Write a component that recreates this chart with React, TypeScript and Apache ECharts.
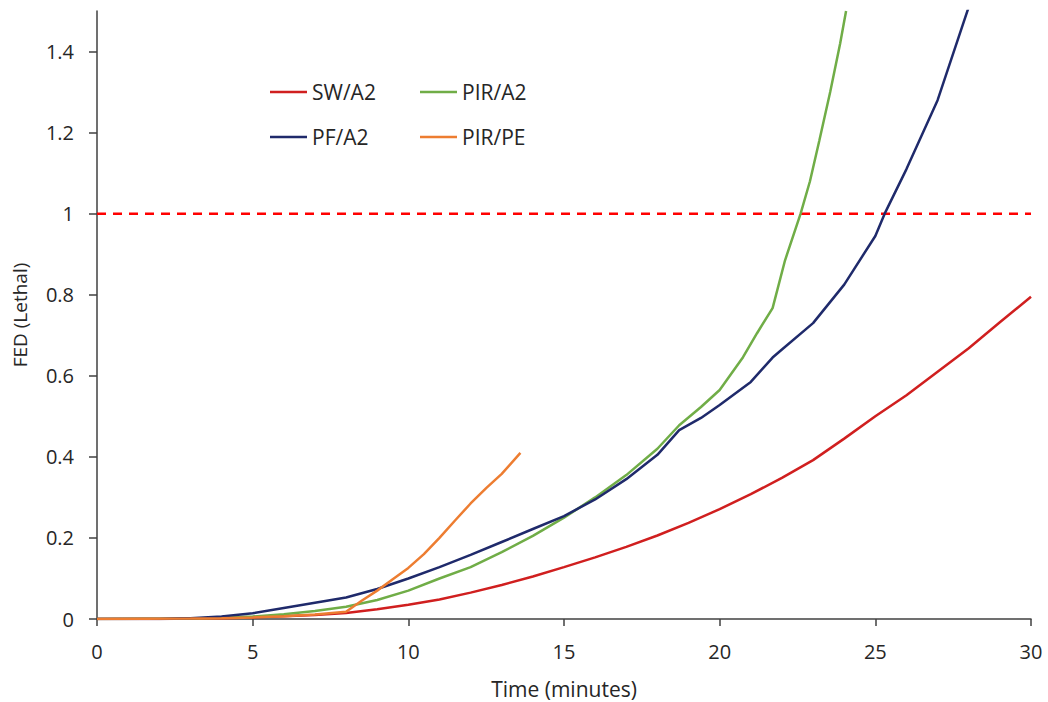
import React, { useEffect, useRef } from 'react';
import * as echarts from 'echarts';

// SW/A2
const swTime = [0, 2, 3, 4, 5, 6, 7, 8, 9, 10, 11, 12, 13, 14, 15, 16, 17, 18, 19, 20, 21, 22, 23, 24, 25, 26, 27, 28, 29, 30];
const swFed = [0, 0, 0.001, 0.002, 0.004, 0.007, 0.01, 0.015, 0.024, 0.035, 0.048, 0.065, 0.084, 0.105, 0.128, 0.152, 0.178, 0.206, 0.237, 0.271, 0.308, 0.348, 0.392, 0.445, 0.5, 0.552, 0.61, 0.668, 0.732, 0.795];

// PIR/A2
const pirA2Time = [0, 3, 4, 5, 6, 7, 8, 9, 10, 11, 12, 13, 14, 15, 16, 17, 18, 18.7, 19.4, 20, 20.75, 21.2, 21.7, 22.1, 22.6, 22.9, 23.2, 23.55, 23.87, 24.06];
const pirA2Fed = [0, 0.001, 0.003, 0.006, 0.012, 0.02, 0.03, 0.047, 0.07, 0.1, 0.128, 0.165, 0.205, 0.25, 0.3, 0.355, 0.42, 0.478, 0.523, 0.565, 0.646, 0.705, 0.767, 0.885, 1.0, 1.08, 1.18, 1.3, 1.42, 1.5];

// PF/A2
const pfTime = [0, 2, 3, 4, 5, 6, 7, 8, 9, 10, 11, 12, 13, 14, 15, 16, 17, 18, 18.7, 19.4, 20, 21, 21.7, 22, 23, 24, 25, 25.3, 26, 27, 28];
const pfFed = [0, 0, 0.002, 0.006, 0.014, 0.027, 0.04, 0.053, 0.074, 0.1, 0.128, 0.158, 0.19, 0.222, 0.254, 0.295, 0.345, 0.405, 0.466, 0.496, 0.528, 0.585, 0.645, 0.665, 0.73, 0.825, 0.945, 1.0, 1.11, 1.28, 1.51];

// PIR/PE
const pirPeTime = [0, 3, 4, 5, 6, 7, 8, 8.5, 9, 9.5, 10, 10.5, 11, 11.5, 12, 12.5, 13, 13.6];
const pirPeFed = [0, 0.001, 0.002, 0.004, 0.007, 0.011, 0.018, 0.045, 0.07, 0.098, 0.126, 0.16, 0.2, 0.243, 0.285, 0.323, 0.358, 0.41];

// lethal threshold
const thresholdTime = [0, 30];
const thresholdFed = [1, 1];

const yTicks = [0, 0.2, 0.4, 0.6, 0.8, 1, 1.2, 1.4];

const FONT = '"Open Sans", sans-serif';
const TEXT = '#262626';
const AXIS = '#404040';

const pairs = (xs: number[], ys: number[]) => xs.map((x, i) => [x, ys[i]]);

const App: React.FC = () => {
  const chartRef = useRef<HTMLDivElement>(null);

  useEffect(() => {
    if (!chartRef.current) return;
    const chart = echarts.init(chartRef.current, null, { renderer: 'svg' });

    const legendBase = {
      orient: 'vertical' as const,
      icon: 'rect',
      itemWidth: 37,
      itemHeight: 2.5,
      itemGap: 23,
      textStyle: { fontFamily: FONT, fontSize: 21, color: TEXT, lineHeight: 22 },
      padding: 0,
    };

    const line = (name: string, data: number[][], color: string) => ({
      name,
      type: 'line' as const,
      data,
      symbol: 'none',
      lineStyle: { color, width: 2.5 },
      itemStyle: { color },
    });

    chart.setOption({
      animation: false,
      textStyle: { fontFamily: FONT },
      grid: { left: 97, right: 17, top: 11, bottom: 83, outerBoundsMode: 'none' },
      legend: [
        { ...legendBase, left: 270, top: 81, data: ['SW/A2', 'PF/A2'] },
        { ...legendBase, left: 420, top: 81, data: ['PIR/A2', 'PIR/PE'] },
      ],
      xAxis: {
        type: 'value',
        min: 0,
        max: 30,
        interval: 5,
        name: 'Time (minutes)',
        nameLocation: 'middle',
        nameGap: 59,
        nameTextStyle: { fontFamily: FONT, fontSize: 21, color: TEXT },
        axisLine: { lineStyle: { color: AXIS, width: 1.5 } },
        axisTick: { show: true, inside: false, length: 7, lineStyle: { color: AXIS, width: 1.5 } },
        axisLabel: { fontFamily: FONT, fontSize: 20, color: TEXT, margin: 22 },
        splitLine: { show: false },
      },
      yAxis: {
        type: 'value',
        min: 0,
        max: 1.5,
        name: 'FED (Lethal)',
        nameLocation: 'middle',
        nameGap: 68,
        nameTextStyle: { fontFamily: FONT, fontSize: 19, color: TEXT },
        axisLine: { show: true, lineStyle: { color: AXIS, width: 1.5 } },
        axisTick: { show: true, inside: false, length: 8, customValues: yTicks, lineStyle: { color: AXIS, width: 1.5 } },
        axisLabel: { fontFamily: FONT, fontSize: 20, color: TEXT, margin: 23, customValues: yTicks },
        splitLine: { show: false },
      },
      series: [
        line('SW/A2', pairs(swTime, swFed), '#D01F1F'),
        line('PIR/A2', pairs(pirA2Time, pirA2Fed), '#70AD47'),
        line('PF/A2', pairs(pfTime, pfFed), '#1F2A6B'),
        line('PIR/PE', pairs(pirPeTime, pirPeFed), '#ED7D31'),
        {
          name: 'threshold',
          type: 'line',
          data: pairs(thresholdTime, thresholdFed),
          symbol: 'none',
          lineStyle: { color: '#FF0000', width: 2.5, type: [9, 7] },
          z: 1,
        },
      ],
    });

    return () => {
      chart.dispose();
    };
  }, []);

  return (
    <div
      ref={chartRef}
      style={{ position: 'fixed', left: 0, top: 0, width: 1048, height: 702, background: '#fff' }}
    />
  );
};

export default App;
